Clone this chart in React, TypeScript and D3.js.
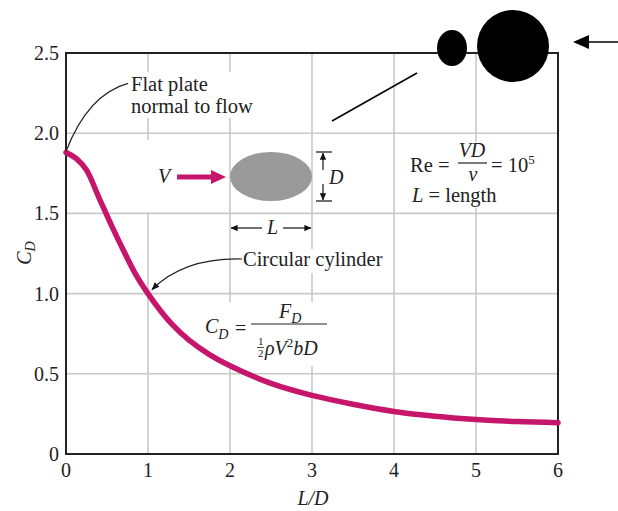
import React from "react";
import * as d3 from "d3";

// Drag coefficient of an elliptical cylinder versus its length-to-diameter ratio
const ldRatio = [0, 0.13, 0.25, 0.4, 0.55, 0.7, 0.85, 1.0, 1.15, 1.3, 1.5, 1.75, 2, 2.5, 3, 3.5, 4, 4.5, 5, 5.5, 6];
const dragCoef = [1.88, 1.84, 1.77, 1.6, 1.43, 1.27, 1.12, 1.0, 0.895, 0.805, 0.71, 0.62, 0.55, 0.44, 0.365, 0.31, 0.265, 0.235, 0.215, 0.202, 0.195];

const xTicks = [0, 1, 2, 3, 4, 5, 6];
const yTicks = [0, 0.5, 1.0, 1.5, 2.0, 2.5];
const yTickLabels = ["0", "0.5", "1.0", "1.5", "2.0", "2.5"];

const W = 618;
const H = 511;
const M = { left: 66, right: 558, top: 53, bottom: 454 };

const SERIF = "'Liberation Serif', 'Times New Roman', serif";
const CURVE = "#c5166b";
const GRID = "#c9c9c9";

export default function App() {
  const x = d3.scaleLinear().domain([0, 6]).range([M.left, M.right]);
  const y = d3.scaleLinear().domain([0, 2.5]).range([M.bottom, M.top]);

  const pts: [number, number][] = ldRatio.map((v, i) => [v, dragCoef[i]]);
  const line = d3
    .line<[number, number]>()
    .x((d) => x(d[0]))
    .y((d) => y(d[1]))
    .curve(d3.curveCatmullRom.alpha(0.5));

  // anchor points on the curve for the two leader lines
  const plateX = x(ldRatio[0]);
  const plateY = y(dragCoef[0]);
  const cylX = x(1);
  const cylY = y(1.0);

  return (
    <svg
      width={W}
      height={H}
      style={{ position: "absolute", left: 0, top: 0, background: "#fff" }}
      fontFamily={SERIF}
    >
      <defs>
        <marker id="ah" viewBox="0 0 10 10" refX="9" refY="5" markerWidth="9" markerHeight="8" orient="auto" markerUnits="userSpaceOnUse">
          <path d="M0,1 L10,5 L0,9 Z" fill="#111" />
        </marker>
        <marker id="dim" viewBox="0 0 10 10" refX="9.5" refY="5" markerWidth="8" markerHeight="7" orient="auto" markerUnits="userSpaceOnUse">
          <path d="M0,0.5 L10,5 L0,9.5 Z" fill="#111" />
        </marker>
      </defs>

      {/* grid */}
      {xTicks.slice(1, -1).map((t) => (
        <line key={"gx" + t} x1={x(t)} x2={x(t)} y1={M.top} y2={M.bottom} stroke={GRID} strokeWidth={1.6} />
      ))}
      {yTicks.slice(1, -1).map((t) => (
        <line key={"gy" + t} x1={M.left} x2={M.right} y1={y(t)} y2={y(t)} stroke={GRID} strokeWidth={1.6} />
      ))}

      {/* white knock-outs behind annotations */}
      <rect x={128} y={72} width={132} height={46} fill="#fff" />
      <rect x={140} y={140} width={88} height={72} fill="#fff" />
      <rect x={405} y={142} width={143} height={66} fill="#fff" />
      <rect x={240} y={249} width={152} height={24} fill="#fff" />
      <rect x={200} y={302} width={130} height={64} fill="#fff" />

      {/* frame */}
      <rect x={M.left} y={M.top} width={M.right - M.left} height={M.bottom - M.top} fill="none" stroke="#222" strokeWidth={2} />

      {/* tick labels */}
      {yTicks.map((t, i) => (
        <text key={"ty" + t} x={M.left - 7} y={y(t) + 7} textAnchor="end" fontSize={20} fill="#222">
          {yTickLabels[i]}
        </text>
      ))}
      {xTicks.map((t) => (
        <text key={"tx" + t} x={x(t)} y={M.bottom + 23} textAnchor="middle" fontSize={20} fill="#222">
          {t}
        </text>
      ))}

      {/* axis titles */}
      <text x={313} y={505} textAnchor="middle" fontSize={20} fontStyle="italic" fill="#222">
        L/D
      </text>
      <text transform="translate(31,253) rotate(-90)" textAnchor="middle" fontSize={20} fontStyle="italic" fill="#222">
        C<tspan fontSize={14} dy={4}>D</tspan>
      </text>

      {/* data curve */}
      <path d={line(pts) || ""} fill="none" stroke={CURVE} strokeWidth={5.5} strokeLinecap="round" />

      {/* Flat plate annotation */}
      <path d={`M${plateX},${plateY - 1} Q${plateX + 22},${plateY - 58} ${plateX + 62},${plateY - 69}`} fill="none" stroke="#222" strokeWidth={1.2} />
      <text x={131} y={91} fontSize={20.5} fill="#222">Flat plate</text>
      <text x={131} y={113} fontSize={20.5} fill="#222">normal to flow</text>

      {/* Circular cylinder annotation */}
      <path d={`M242,259 Q${cylX + 36},${cylY - 36} ${cylX + 4},${cylY - 4}`} fill="none" stroke="#222" strokeWidth={1.2} markerEnd="url(#ah)" />
      <text x={243} y={266} fontSize={20.5} fill="#222">Circular cylinder</text>

      {/* drag coefficient definition */}
      <g fill="#222">
        <text x={205} y={333} fontSize={20} fontStyle="italic">
          C<tspan fontSize={14} dy={6}>D</tspan>
        </text>
        <text x={235} y={335} fontSize={20}>=</text>
        <line x1={251} x2={327} y1={324} y2={324} stroke="#222" strokeWidth={1.2} />
        <text x={279} y={318} fontSize={20} fontStyle="italic">
          F<tspan fontSize={14} dy={5}>D</tspan>
        </text>
        <text x={258} y={345} fontSize={11}>1</text>
        <line x1={257} x2={264} y1={347.5} y2={347.5} stroke="#222" strokeWidth={0.8} />
        <text x={258} y={357} fontSize={11}>2</text>
        <text x={265} y={355} fontSize={20} fontStyle="italic">
          ρV<tspan fontSize={13} dy={-8} fontStyle="normal">2</tspan>
          <tspan dy={8}>bD</tspan>
        </text>
      </g>

      {/* Reynolds number note */}
      <g fill="#222">
        <text x={410} y={172} fontSize={20.5}>Re =</text>
        <line x1={458} x2={487} y1={163} y2={163} stroke="#222" strokeWidth={1.2} />
        <text x={472} y={157} fontSize={20} fontStyle="italic" textAnchor="middle">VD</text>
        <text x={473} y={181} fontSize={20} fontStyle="italic" textAnchor="middle">v</text>
        <text x={491} y={172} fontSize={20.5}>
          = 10<tspan fontSize={13} dy={-8}>5</tspan>
        </text>
        <text x={412} y={202} fontSize={20.5}>
          <tspan fontStyle="italic">L</tspan> = length
        </text>
      </g>

      {/* body sketch: flow arrow, elliptical cylinder, dimensions */}
      <text x={158} y={183} fontSize={20} fontStyle="italic" fill="#222">V</text>
      <line x1={177} x2={214} y1={177} y2={177} stroke={CURVE} strokeWidth={5} />
      <path d="M211,170 L226,177 L211,184 Z" fill={CURVE} />
      <ellipse cx={(x(2) + x(3)) / 2} cy={176.5} rx={(x(3) - x(2)) / 2} ry={24.5} fill="#9a9a9a" />
      <line x1={316} x2={332} y1={152} y2={152} stroke="#111" strokeWidth={1.2} />
      <line x1={316} x2={332} y1={201} y2={201} stroke="#111" strokeWidth={1.2} />
      <line x1={323} x2={323} y1={170} y2={153} stroke="#111" strokeWidth={1.2} markerEnd="url(#dim)" />
      <line x1={323} x2={323} y1={184} y2={200} stroke="#111" strokeWidth={1.2} markerEnd="url(#dim)" />
      <text x={329} y={184} fontSize={20} fontStyle="italic" fill="#222">D</text>
      <line x1={262} x2={x(2) + 1} y1={228} y2={228} stroke="#111" strokeWidth={1.2} markerEnd="url(#dim)" />
      <line x1={283} x2={x(3) - 1} y1={228} y2={228} stroke="#111" strokeWidth={1.2} markerEnd="url(#dim)" />
      <text x={272.5} y={234} fontSize={20} fontStyle="italic" textAnchor="middle" fill="#222">L</text>

      {/* overlay marks at the top right */}
      <line x1={332} y1={121} x2={417} y2={73} stroke="#000" strokeWidth={1.5} />
      <ellipse cx={452} cy={48} rx={15} ry={18} fill="#000" />
      <circle cx={513} cy={46} r={36} fill="#000" />
      <line x1={618} y1={42} x2={586} y2={42} stroke="#000" strokeWidth={1.5} />
      <path d="M573,42 L589,35 L589,49 Z" fill="#000" />
    </svg>
  );
}
